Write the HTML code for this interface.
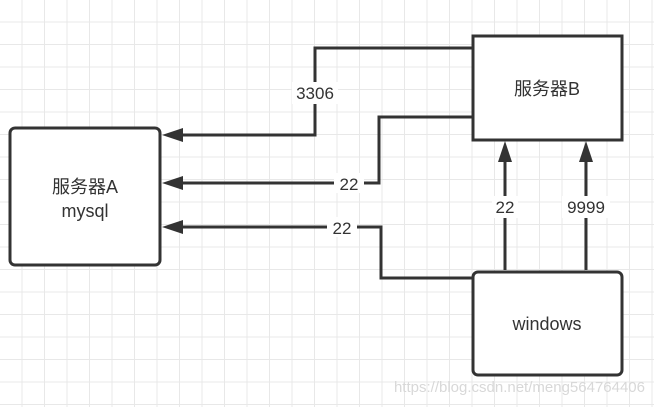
<!DOCTYPE html>
<html><head><meta charset="utf-8"><style>
body{margin:0;width:654px;height:407px;overflow:hidden;background:#fff;}
svg{display:block}
text{font-family:"Liberation Sans","Noto Sans CJK SC",sans-serif;fill:#333;}
</style></head><body>
<svg width="654" height="407" viewBox="0 0 654 407">
<defs>
<pattern id="g" width="22.5" height="22.5" patternUnits="userSpaceOnUse" x="0" y="0">
<path d="M22 0V22.5M0 22H22.5" stroke="#e8e8e8" stroke-width="1" fill="none"/>
</pattern>
</defs>
<rect width="654" height="407" fill="#fff"/>
<rect width="654" height="407" fill="url(#g)"/>
<g stroke="#333" stroke-width="3" fill="none">
<path d="M472 48H315V135H180"/>
<path d="M472 117H379V183H180"/>
<path d="M472 278H381V227H180"/>
<path d="M505 270V160"/>
<path d="M586 270V160"/>
</g>
<g fill="#333">
<path d="M162 135L183 128V142Z"/>
<path d="M162 183L183 176V190Z"/>
<path d="M162 227L183 220V234Z"/>
<path d="M505 141L498 162H512Z"/>
<path d="M586 141L579 162H593Z"/>
</g>
<rect x="10" y="128" width="150" height="137" rx="5" fill="#fff" stroke="#333" stroke-width="3"/>
<rect x="473" y="36" width="149" height="104" fill="#fff" stroke="#333" stroke-width="3"/>
<rect x="473" y="272" width="149" height="103" rx="5" fill="#fff" stroke="#333" stroke-width="3"/>
<g font-size="17">
<rect x="292" y="82" width="46" height="22" fill="#fff"/>
<text x="315" y="99" text-anchor="middle">3306</text>
<rect x="334" y="173" width="30" height="20" fill="#fff"/>
<text x="349" y="190" text-anchor="middle">22</text>
<rect x="327" y="217" width="30" height="20" fill="#fff"/>
<text x="342" y="234" text-anchor="middle">22</text>
<rect x="492" y="196" width="26" height="22" fill="#fff"/>
<text x="505" y="213" text-anchor="middle">22</text>
<rect x="562" y="196" width="48" height="22" fill="#fff"/>
<text x="586" y="213" text-anchor="middle">9999</text>
</g>
<g font-size="18" text-anchor="middle">
<text x="85" y="193">服务器A</text>
<text x="85" y="217">mysql</text>
<text x="547" y="95">服务器B</text>
<text x="547" y="330">windows</text>
</g>
<text x="645" y="392" text-anchor="end" font-size="15" style="fill:#d8d8d8">https://blog.csdn.net/meng564764406</text>
</svg>
</body></html>
